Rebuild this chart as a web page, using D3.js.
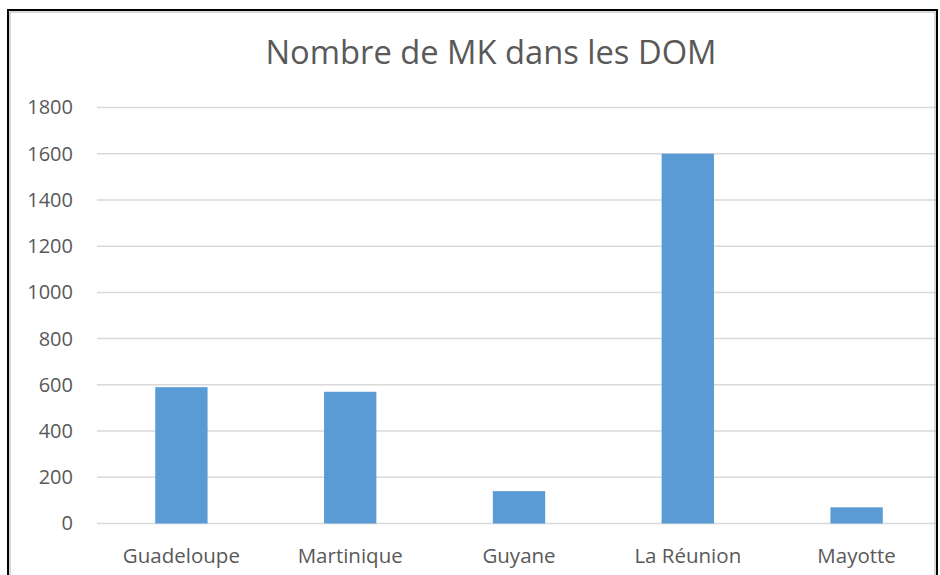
<!DOCTYPE html>
<html>
<head>
<meta charset="utf-8">
<script src="https://cdn.jsdelivr.net/npm/d3@7"></script>
<style>
  body { margin: 0; background: #fff; }
  text { font-family: "Open Sans", "Noto Sans", sans-serif; fill: #595959; }
</style>
</head>
<body>
<div id="chart-area"></div>
<script>
// SVG Size
var width = 940,
	height = 575;

// data
var departements = ["Guadeloupe", "Martinique", "Guyane", "La Réunion", "Mayotte"];
var nbMK = [590, 570, 140, 1600, 70];
var yTicks = [0, 200, 400, 600, 800, 1000, 1200, 1400, 1600, 1800];
var titre = "Nombre de MK dans les DOM";

var data = departements.map(function(d, i) {
	return { nom: d, valeur: nbMK[i] };
});

var svg = d3.select("#chart-area")
	.append("svg")
	.attr("width", width)
	.attr("height", height);

// plot area is cut on the right in the original
var xScale = d3.scaleBand()
	.domain(departements)
	.range([97, 941])
	.paddingInner(0.69)
	.paddingOuter(0.345);

var yScale = d3.scaleLinear()
	.domain([0, 1800])
	.range([523.5, 107.5]);

// gridlines
svg.append("g")
	.attr("class", "grid")
	.selectAll("line")
	.data(yTicks)
	.enter()
	.append("line")
	.attr("x1", 97)
	.attr("x2", 936)
	.attr("y1", function(d) { return yScale(d); })
	.attr("y2", function(d) { return yScale(d); })
	.attr("stroke", "#d9d9d9")
	.attr("stroke-width", 1.5);

// bars
svg.selectAll("rect.bar")
	.data(data)
	.enter()
	.append("rect")
	.attr("class", "bar")
	.attr("x", function(d) { return xScale(d.nom); })
	.attr("y", function(d) { return yScale(d.valeur); })
	.attr("width", xScale.bandwidth())
	.attr("height", function(d) { return yScale(0) - yScale(d.valeur); })
	.attr("fill", "#5b9bd5");

// y axis
var yAxis = d3.axisLeft(yScale)
	.tickValues(yTicks)
	.tickFormat(d3.format("d"))
	.tickSize(0)
	.tickPadding(0);

svg.append("g")
	.attr("class", "axis y-axis")
	.attr("transform", "translate(73, 0)")
	.call(yAxis)
	.call(function(g) { g.select(".domain").remove(); })
	.selectAll("text")
	.attr("font-size", 20)
	.attr("dy", "0.32em")
	.style("font-family", "'Open Sans', sans-serif")
	.attr("fill", "#595959");

// x axis
var xAxis = d3.axisBottom(xScale)
	.tickSize(0)
	.tickPadding(0);

svg.append("g")
	.attr("class", "axis x-axis")
	.attr("transform", "translate(0, 548)")
	.call(xAxis)
	.call(function(g) { g.select(".domain").remove(); })
	.selectAll("text")
	.attr("font-size", 20.5)
	.attr("dy", "0.71em")
	.attr("y", 0)
	.style("font-family", "'Open Sans', sans-serif")
	.attr("fill", "#595959");

// title
svg.append("text")
	.attr("x", 491)
	.attr("y", 64)
	.attr("text-anchor", "middle")
	.attr("font-size", 32.7)
	.text(titre);

// chart border
svg.append("path")
	.attr("d", "M8,575 V10 H937 V575")
	.attr("fill", "none")
	.attr("stroke", "#000")
	.attr("stroke-width", 2);
svg.append("path")
	.attr("d", "M10,575 V12 H935 V575")
	.attr("fill", "none")
	.attr("stroke", "#b0b0b0")
	.attr("stroke-width", 1);
</script>
</body>
</html>
